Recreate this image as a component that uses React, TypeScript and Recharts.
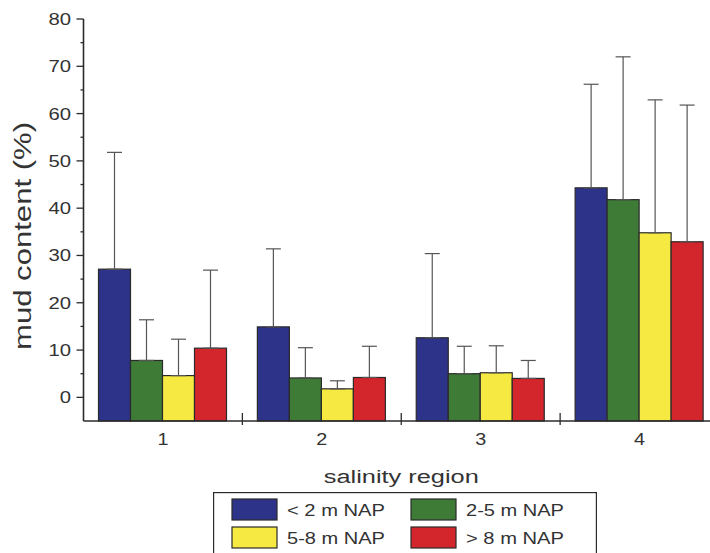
import React from 'react';
import { BarChart, Bar, XAxis, YAxis, ErrorBar, Legend } from 'recharts';

// Salinity regions along the estuary
const regions = ['1', '2', '3', '4'];

// Elevation classes (series)
const seriesNames = ['< 2 m NAP', '2-5 m NAP', '5-8 m NAP', '> 8 m NAP'];
const seriesColors = ['#2d3388', '#3e7b37', '#f6ea42', '#d2262c'];

// Mean mud content (%) per region
const below2 = [27.1, 14.9, 12.6, 44.3];
const from2to5 = [7.8, 4.1, 5.0, 41.8];
const from5to8 = [4.6, 1.8, 5.2, 34.8];
const above8 = [10.4, 4.2, 4.0, 32.9];

// Standard deviations (upper whisker only)
const below2Sd = [24.7, 16.5, 17.8, 21.9];
const from2to5Sd = [8.6, 6.4, 5.8, 30.2];
const from5to8Sd = [7.7, 1.7, 5.7, 28.1];
const above8Sd = [16.5, 6.6, 3.8, 28.9];

const yTicks = [0, 5, 10, 15, 20, 25, 30, 35, 40, 45, 50, 55, 60, 65, 70, 75, 80];

const means = [below2, from2to5, from5to8, above8];
const sds = [below2Sd, from2to5Sd, from5to8Sd, above8Sd];

const data = regions.map((region, i) => {
  const row: Record<string, any> = { region };
  means.forEach((m, s) => {
    row[`m${s}`] = m[i];
    row[`e${s}`] = [0, sds[s][i]];
  });
  return row;
});

const CHART_W = 720;
const CHART_H = 553;
const MARGIN = { top: 19, right: 1, bottom: 92, left: 0 };
const Y_W = 83.5;
const BAND = (CHART_W - MARGIN.left - MARGIN.right - Y_W) / regions.length;

const FONT = '"Liberation Sans", Arial, Helvetica, sans-serif';
const AXIS = '#2b2b2b';
const TEXT = '#333333';

// Bars reach down to the bottom of the plot area (the x-axis sits below zero)
const FullBar = (props: any) => {
  const { x, y, width, height, fill, background } = props;
  const bottom = background ? background.y + background.height : y + height;
  return (
    <rect
      x={x}
      y={y}
      width={width}
      height={Math.max(0, bottom - y)}
      fill={fill}
      stroke="#2a2a2a"
      strokeWidth={1.2}
    />
  );
};

const YTick = ({ x, y, payload }: any) => {
  const v = payload.value;
  const major = v % 10 === 0;
  const s = String(v);
  return (
    <g>
      <line x1={x - (major ? 7 : 3)} x2={x} y1={y} y2={y} stroke={AXIS} strokeWidth={1.3} />
      {major && (
        <text
          x={x - 12.5}
          y={y + 6}
          textAnchor="end"
          fontSize={17}
          fontFamily={FONT}
          fill={TEXT}
          textLength={s.length * 11.3}
          lengthAdjust="spacingAndGlyphs"
        >
          {s}
        </text>
      )}
    </g>
  );
};

const XTick = ({ x, y, payload, index }: any) => (
  <g>
    {index > 0 && (
      <line x1={x - BAND / 2} x2={x - BAND / 2} y1={y - 8} y2={y + 4} stroke={AXIS} strokeWidth={1.3} />
    )}
    <text
      x={x}
      y={y + 24}
      textAnchor="middle"
      fontSize={17}
      fontFamily={FONT}
      fill={TEXT}
      textLength={11}
      lengthAdjust="spacingAndGlyphs"
    >
      {payload.value}
    </text>
  </g>
);

const YLabel = (p: any) => {
  const vb = p.viewBox || { x: 0, y: MARGIN.top, height: 402 };
  const cy = vb.y + vb.height / 2 + 16;
  return (
    <text
      transform={`translate(${vb.x + 31}, ${cy}) rotate(-90)`}
      textAnchor="middle"
      fontSize={23}
      fontFamily={FONT}
      fill={TEXT}
      textLength={228}
      lengthAdjust="spacingAndGlyphs"
    >
      mud content (%)
    </text>
  );
};

const XLabel = (p: any) => {
  const vb = p.viewBox;
  return (
    <text
      x={vb.x + vb.width / 2}
      y={vb.y + 62}
      textAnchor="middle"
      fontSize={18}
      fontFamily={FONT}
      fill={TEXT}
      textLength={155}
      lengthAdjust="spacingAndGlyphs"
    >
      salinity region
    </text>
  );
};

const LegendBox = () => (
  <svg width={384} height={80} style={{ display: 'block' }}>
    <rect x={0.6} y={0.6} width={382.8} height={78.8} fill="#ffffff" stroke={AXIS} strokeWidth={1.2} />
    {seriesNames.map((name, i) => {
      const col = i % 2;
      const row = Math.floor(i / 2);
      const sx = col === 0 ? 19 : 198;
      const sy = row === 0 ? 7 : 35;
      return (
        <g key={name}>
          <rect x={sx} y={sy} width={45} height={21} fill={seriesColors[i]} stroke="#2a2a2a" strokeWidth={1.2} />
          <text
            x={sx + 55}
            y={sy + 17}
            fontSize={17}
            fontFamily={FONT}
            fill={TEXT}
            textLength={98}
            lengthAdjust="spacingAndGlyphs"
          >
            {name}
          </text>
        </g>
      );
    })}
  </svg>
);

export default function App() {
  return (
    <div
      style={{
        position: 'absolute',
        left: 0,
        top: 0,
        width: 710,
        height: 553,
        overflow: 'hidden',
        background: '#ffffff',
        fontFamily: FONT,
      }}
    >
      <BarChart
        width={CHART_W}
        height={CHART_H}
        data={data}
        margin={MARGIN}
        barCategoryGap={15}
        barGap={0}
      >
        <XAxis
          dataKey="region"
          height={40}
          interval={0}
          tickLine={false}
          tickSize={0}
          tickMargin={0}
          tick={<XTick />}
          axisLine={{ stroke: AXIS, strokeWidth: 1.6 }}
          label={{ content: <XLabel /> }}
        />
        <YAxis
          type="number"
          domain={[-5, 80]}
          ticks={yTicks}
          interval={0}
          width={Y_W}
          tickLine={false}
          tickSize={0}
          tickMargin={0}
          tick={<YTick />}
          axisLine={{ stroke: AXIS, strokeWidth: 1.6 }}
          label={{ content: <YLabel /> }}
        />
        <Legend
          layout="horizontal"
          verticalAlign="middle"
          align="center"
          content={<LegendBox />}
          wrapperStyle={{ left: 213, top: 492, width: 384, height: 80 }}
        />
        {seriesNames.map((name, s) => (
          <Bar
            key={name}
            name={name}
            dataKey={`m${s}`}
            fill={seriesColors[s]}
            shape={<FullBar />}
            isAnimationActive={false}
          >
            <ErrorBar
              dataKey={`e${s}`}
              direction="y"
              width={7.5}
              stroke="#555555"
              strokeWidth={1.2}
              isAnimationActive={false}
            />
          </Bar>
        ))}
      </BarChart>
    </div>
  );
}
